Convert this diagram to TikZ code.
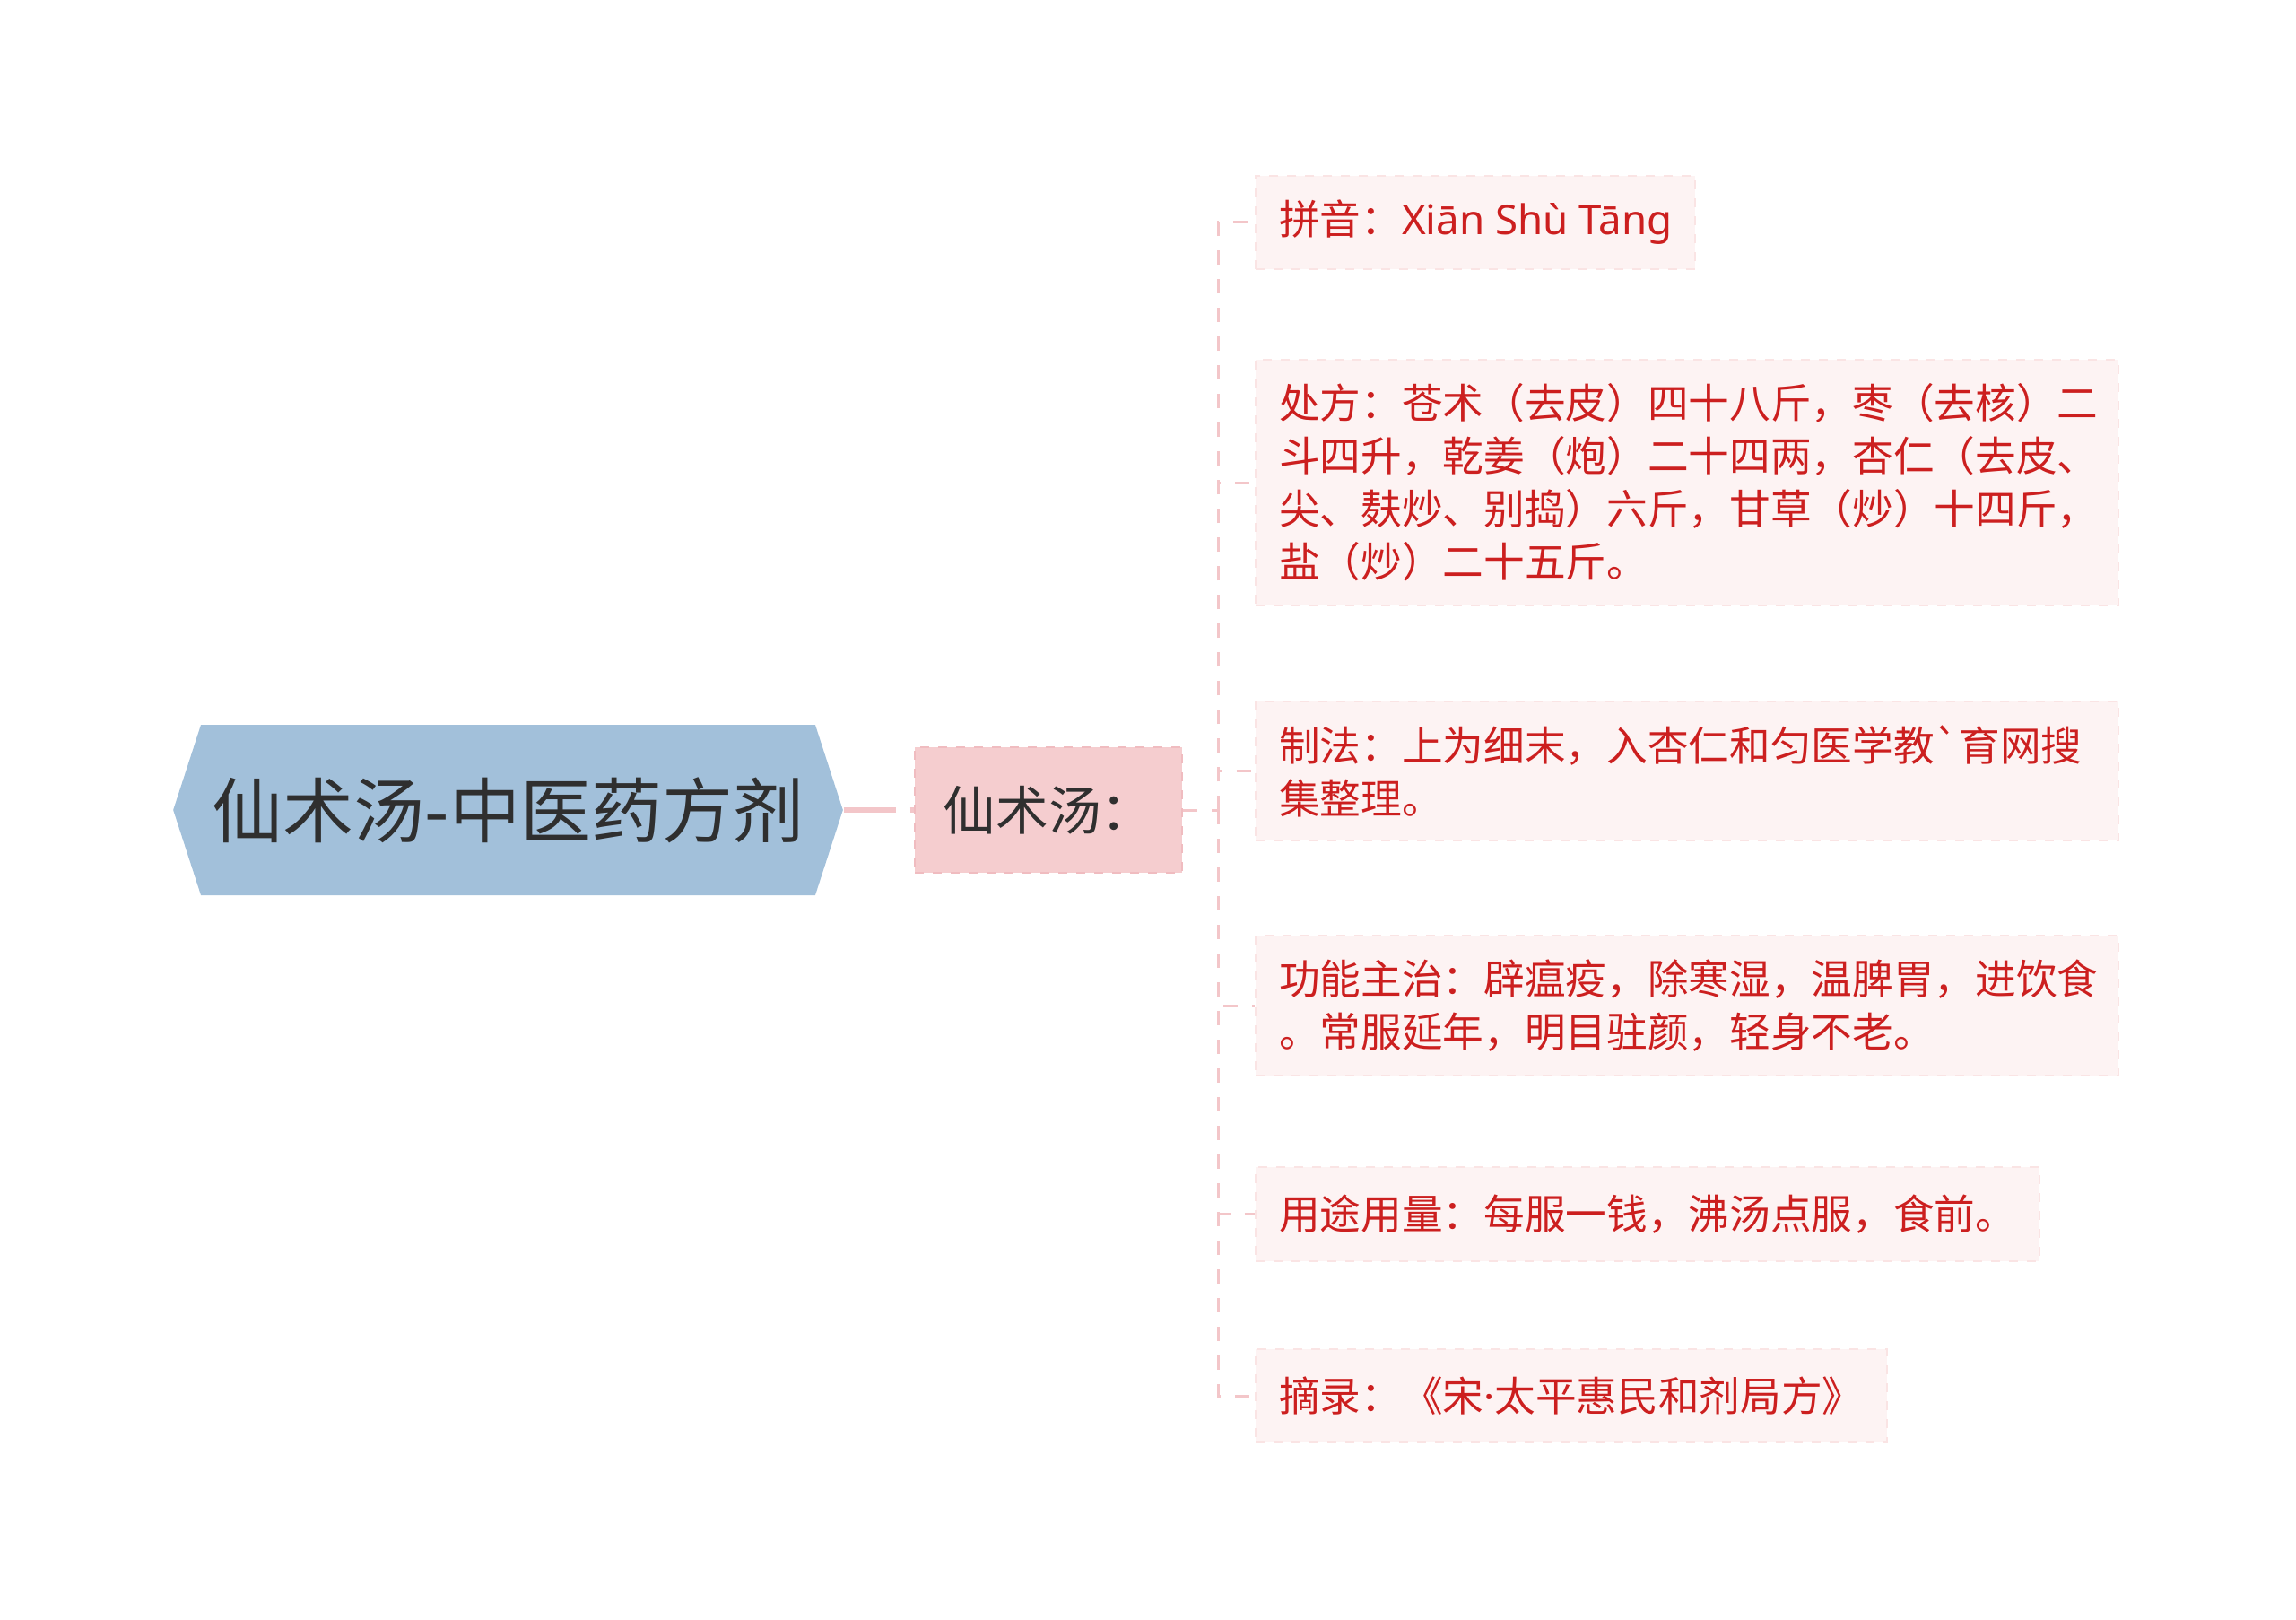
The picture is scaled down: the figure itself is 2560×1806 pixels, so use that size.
\documentclass[tikz,border=0pt]{standalone}
\usepackage{fontspec}
\newfontfamily\cjk{Noto Sans CJK SC}
\newfontfamily\latin{Noto Sans}
\usepackage{xcolor}
\usepackage{tikz}
\usetikzlibrary{shapes.symbols}
\definecolor{rootfill}{HTML}{A2C0DA}
\definecolor{roottext}{HTML}{2F2F2F}
\definecolor{subfill}{HTML}{F5CDCF}
\definecolor{subline}{HTML}{F0BCC0}
\definecolor{leaffill}{HTML}{FDF3F3}
\definecolor{leafline}{HTML}{FAE4E4}
\definecolor{leaftext}{HTML}{CC1F1F}
\definecolor{linkpink}{HTML}{F3C6C9}
\tikzset{
  rootbox/.style={signal, signal to=west and east, signal pointer angle=144,
    fill=rootfill, text=roottext, minimum width=224pt, minimum height=57pt,
    inner sep=0pt, font=\cjk\fontsize{23.7}{28}\selectfont},
  subbox/.style={fill=subfill, draw=subline, dashed, line width=0.8pt,
    minimum width=89.4pt, minimum height=42pt, inner sep=0pt,
    text=roottext, font=\cjk\fontsize{17.6}{21}\selectfont},
  leafbox/.style={anchor=west, fill=leaffill, draw=leafline, dashed, line width=0.6pt,
    inner xsep=7.8pt, inner ysep=8pt, minimum height=31.4pt, align=left,
    text=leaftext, font=\cjk\fontsize{13.7}{17.7}\selectfont},
  wide/.style={text width=273pt},
  link/.style={draw=linkpink, line width=1.8pt, dash pattern=on 17.4pt off 4.8pt},
  branch/.style={draw=linkpink, line width=0.9pt, dash pattern=on 4.8pt off 4.8pt},
}
\begin{document}
\begin{tikzpicture}[x=0.3pt, y=-0.3pt]
  \useasboundingbox (0,0) rectangle (2560,1806);
  \node[rootbox] (root) at (566.5,903) {仙术汤-中医药方剂};
  \node[subbox] (sub) at (1169,903) {仙术汤：};
  \coordinate (trunk) at (1358,903);
  % leaves
  \node[leafbox] (pinyin) at (1399,248) {拼音：{\latin Xiān Shù Tāng}};
  \node[leafbox, wide] (recipe) at (1399,538) {处方：苍术（去皮）四十八斤，枣（去核）二\\斗四升，乾姜（炮）二十四两，杏仁（去皮、\\尖、麸炒、别捣）六斤，甘草（炒）十四斤，\\盐（炒）二十五斤。};
  \node[leafbox, wide] (method) at (1399,859.5) {制法：上为细末，入杏仁和匀医学教`育网搜\\集整理。};
  \node[leafbox, wide] (effect) at (1399,1121) {功能主治：辟瘟疫，除寒湿，温脾胃，进饮食\\。常服延年，明目驻颜，轻身不老。};
  \node[leafbox] (usage) at (1399,1353.5) {用途用量：每服一钱，沸汤点服，食前。};
  \node[leafbox] (source) at (1399,1556) {摘录：《宋{\latin ·}太平惠民和剂局方》};
  % connectors
  \draw[link] (root.east) -- (sub.west);
  \draw[branch] (sub.east) -- (trunk);
  \foreach \leaf in {pinyin,recipe,method,effect,usage,source}
    \draw[branch] (trunk) |- (\leaf.west);
\end{tikzpicture}
\end{document}
